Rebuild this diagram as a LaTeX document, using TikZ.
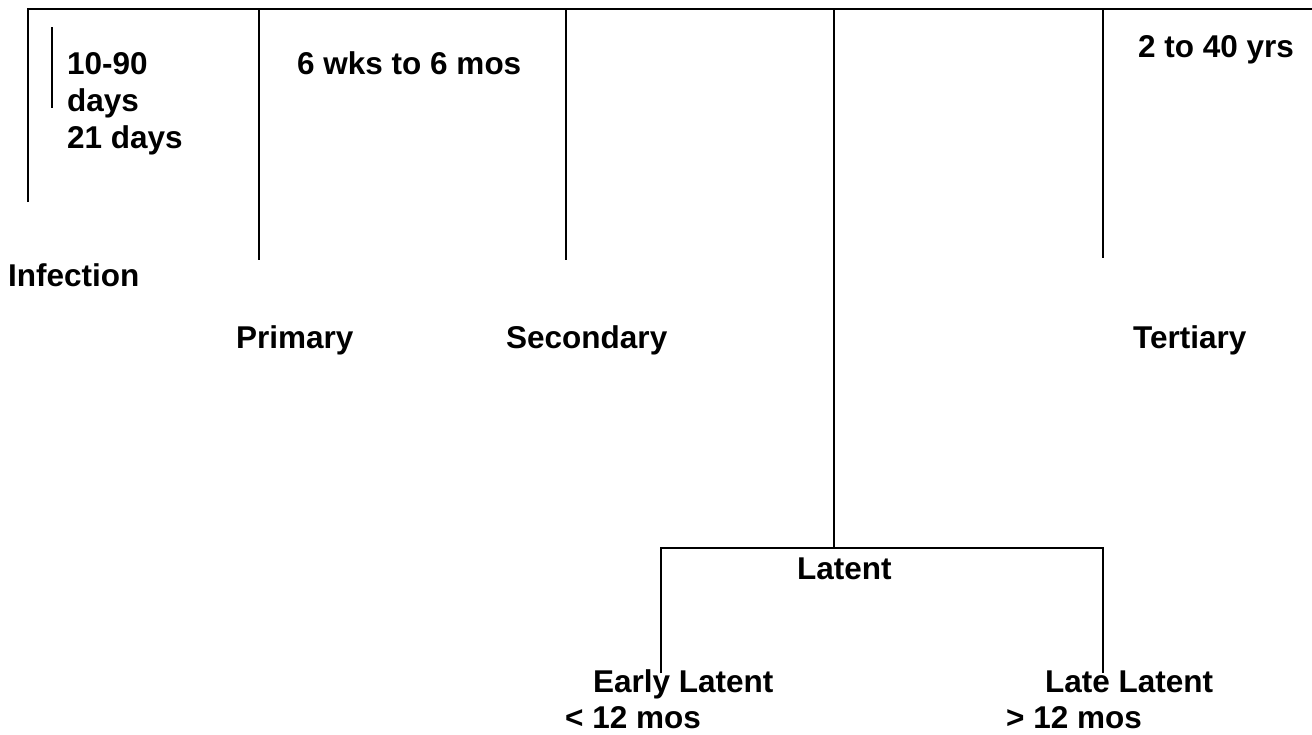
\documentclass[tikz,border=0pt]{standalone}
\usepackage{fontspec}
\setmainfont{Liberation Sans}

\tikzset{
	lbl/.style={anchor=base west, inner sep=0pt, font=\fontsize{31.5}{37}\selectfont\bfseries},
	bar/.style={line width=1.6pt}
}

\begin{document}
\begin{tikzpicture}[x=1pt, y=-1pt]
		\useasboundingbox (0, 0) rectangle (1312, 734);

		% stage labels
		\draw (8, 286)		node[lbl] (infection)	{Infection};
		\draw (67, 74)		node[lbl] (incub1)		{10-90};
		\draw (67, 111)		node[lbl] (incub2)		{days};
		\draw (67, 148)		node[lbl] (incub3)		{21 days};
		\draw (297, 74)		node[lbl] (sixwks)		{6 wks to 6 mos};
		\draw (1138, 57)	node[lbl] (yrs)			{2 to 40 yrs};
		\draw (236, 348)	node[lbl] (primary)		{Primary};
		\draw (506, 348)	node[lbl] (secondary)	{Secondary};
		\draw (1133, 348)	node[lbl] (tertiary)	{Tertiary};
		\draw (797, 579)	node[lbl] (latent)		{Latent};
		\draw (593, 692)	node[lbl] (early)		{Early Latent};
		\draw (565, 728)	node[lbl] (early')		{< 12 mos};
		\draw (1045, 692)	node[lbl] (late)		{Late Latent};
		\draw (1006, 728)	node[lbl] (late')		{> 12 mos};

		% ends of the timeline bars
		\coordinate (start)	at (28, 9);
		\coordinate (end)	at (1312, 9);
		\coordinate (inf)	at (28, 202);
		\coordinate (mark1)	at (52, 27);
		\coordinate (mark2)	at (52, 108);
		\coordinate (p1)	at (259, 9);
		\coordinate (p2)	at (259, 260);
		\coordinate (s1)	at (566, 9);
		\coordinate (s2)	at (566, 260);
		\coordinate (l1)	at (834, 9);
		\coordinate (l2)	at (834, 548);
		\coordinate (t1)	at (1103, 9);
		\coordinate (t2)	at (1103, 258);
		\coordinate (e1)	at (661, 548);
		\coordinate (e2)	at (661, 673);
		\coordinate (r1)	at (1103, 548);
		\coordinate (r2)	at (1103, 673);

		\draw[bar] (inf) -- (start) -- (end);
		\draw[bar] (mark1) -- (mark2);
		\draw[bar] (p1) -- (p2);
		\draw[bar] (s1) -- (s2);
		\draw[bar] (l1) -- (l2);
		\draw[bar] (t1) -- (t2);
		\draw[bar] (e2) -- (e1) -- (r1) -- (r2);
	\end{tikzpicture}
\end{document}
